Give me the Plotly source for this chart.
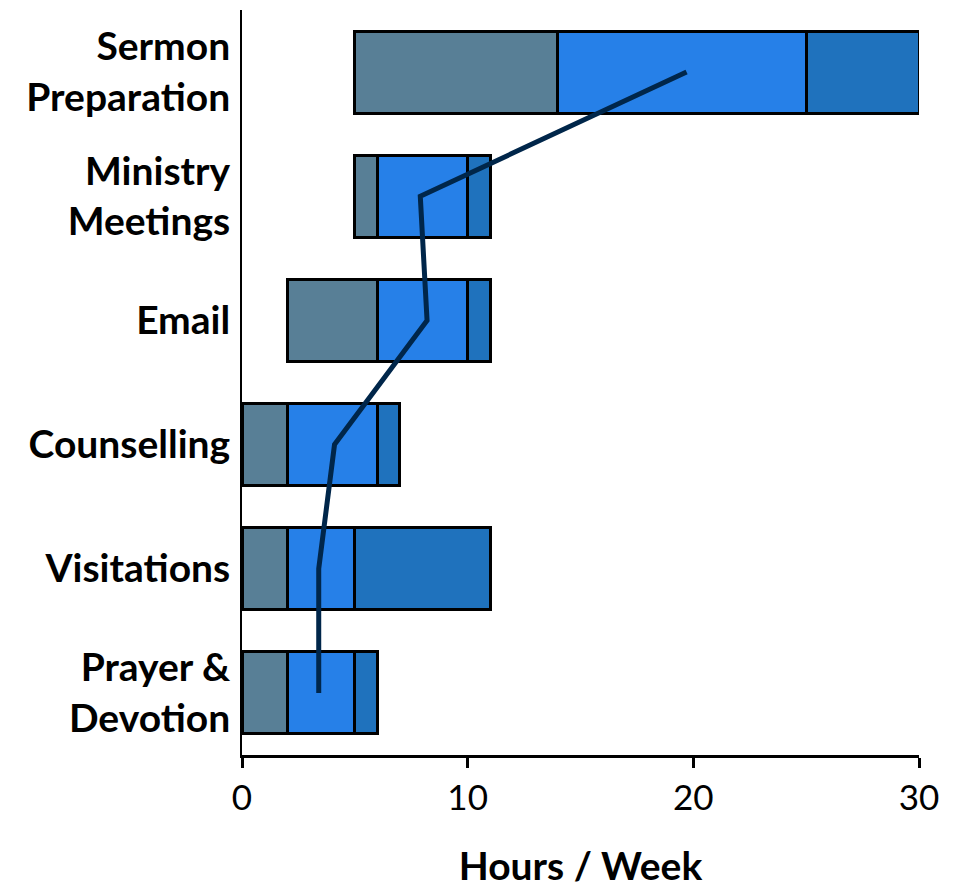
import plotly.graph_objects as go

categories = ["Sermon<br>Preparation", "Ministry<br>Meetings", "Email",
              "Counselling", "Visitations", "Prayer &<br>Devotion"]
min_hours = [5, 5, 2, 0, 0, 0]
low_hours = [14, 6, 6, 2, 2, 2]
high_hours = [25, 10, 10, 6, 5, 5]
max_hours = [30, 11, 11, 7, 11, 6]
avg_hours = [19.7, 7.9, 8.2, 4.1, 3.4, 3.4]

x_ticks = [0, 10, 20, 30]

seg1 = [b - a for a, b in zip(min_hours, low_hours)]
seg2 = [b - a for a, b in zip(low_hours, high_hours)]
seg3 = [b - a for a, b in zip(high_hours, max_hours)]

outline = dict(color="black", width=3)

fig = go.Figure()
fig.add_trace(go.Bar(y=categories, x=min_hours, orientation="h",
                     marker=dict(color="rgba(0,0,0,0)", line=dict(width=0)),
                     hoverinfo="skip", showlegend=False))
fig.add_trace(go.Bar(y=categories, x=seg1, orientation="h",
                     marker=dict(color="#587f96", line=outline), showlegend=False))
fig.add_trace(go.Bar(y=categories, x=seg2, orientation="h",
                     marker=dict(color="#2680e8", line=outline), showlegend=False))
fig.add_trace(go.Bar(y=categories, x=seg3, orientation="h",
                     marker=dict(color="#1f72bd", line=outline), showlegend=False))
fig.add_trace(go.Scatter(y=categories, x=avg_hours, mode="lines",
                         line=dict(color="#00264a", width=5), showlegend=False))

fig.update_layout(
    barmode="stack",
    bargap=0.34,
    width=954, height=880,
    margin=dict(l=234, r=43, t=2, b=133),
    plot_bgcolor="white", paper_bgcolor="white",
    font=dict(family="Lato", color="black"),
)
fig.update_xaxes(range=[0, 30], tickvals=x_ticks, showgrid=False, zeroline=False,
                 automargin=False,
                 showline=True, linecolor="black", linewidth=3,
                 ticks="outside", ticklen=10, tickwidth=3, tickcolor="black",
                 tickfont=dict(size=35, family="Lato"),
                 title=dict(text="Hours / Week", font=dict(size=39, family="Lato", weight="bold"),
                            standoff=38))
fig.update_yaxes(categoryorder="array", categoryarray=categories,
                 range=[5.5, -0.5], showgrid=False, zeroline=False,
                 automargin=False,
                 showline=True, linecolor="black", linewidth=2, ticks="",
                 ticklabelstandoff=2,
                 tickfont=dict(size=39, family="Lato", weight="bold"))

fig.write_html("out.html")
